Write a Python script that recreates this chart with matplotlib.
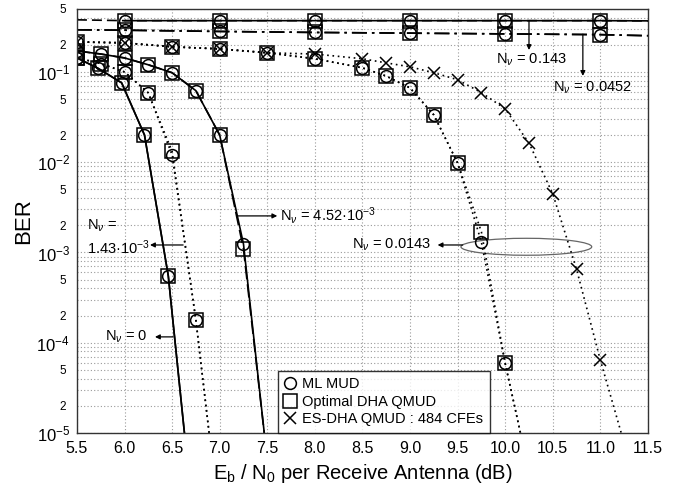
import numpy as np
import matplotlib.pyplot as plt
from matplotlib.lines import Line2D
from matplotlib.patches import Ellipse
from matplotlib.ticker import FixedLocator, FixedFormatter

plt.rcParams['font.family'] = ['Liberation Sans', 'DejaVu Sans']
plt.rcParams['mathtext.fontset'] = 'custom'
plt.rcParams['mathtext.rm'] = 'Liberation Sans'
plt.rcParams['mathtext.it'] = 'Liberation Sans:italic'

# --- data (BER vs Eb/N0) ---
# N_nu = 0
x_n0 = [5.5, 5.72, 5.97, 6.21, 6.46, 6.71]
ml_n0 = [0.143, 0.110, 0.0757, 0.0200, 5.5e-4, 1.5e-6]
dha_n0 = [0.143, 0.110, 0.0757, 0.0200, 5.5e-4, 1.5e-6]

# N_nu = 1.43e-3
x_n1 = [5.5, 5.75, 6.0, 6.25, 6.5, 6.75, 7.0]
ml_n1 = [0.143, 0.124, 0.100, 0.0586, 0.0120, 1.78e-4, 1.0e-6]
dha_n1 = [0.143, 0.124, 0.100, 0.0586, 0.0132, 1.78e-4, 1.0e-6]

# N_nu = 4.52e-3
x_n2 = [5.5, 5.75, 6.0, 6.25, 6.5, 6.75, 7.0, 7.25, 7.5]
ml_n2 = [0.171, 0.158, 0.143, 0.120, 0.098, 0.062, 0.0200, 1.24e-3, 5e-6]
dha_n2 = [0.171, 0.158, 0.143, 0.120, 0.098, 0.062, 0.0200, 1.09e-3, 5e-6]

# N_nu = 0.0143
x_n3 = [5.5, 6.0, 6.5, 7.0, 7.5, 8.0, 8.5, 8.75, 9.0, 9.25, 9.5, 9.75, 10.0, 10.25]
ml_n3 = [0.215, 0.21, 0.19, 0.18, 0.163, 0.140, 0.111, 0.090, 0.0665, 0.0334,
         9.8e-3, 1.3e-3, 5.9e-5, 3.7e-6]
dha_n3 = [0.215, 0.21, 0.19, 0.18, 0.163, 0.140, 0.111, 0.090, 0.0665, 0.0334,
          9.8e-3, 1.69e-3, 5.9e-5, 3.7e-6]
x_es = [5.5, 6.0, 6.5, 7.0, 7.5, 8.0, 8.5, 8.75, 9.0, 9.25, 9.5, 9.75, 10.0,
        10.25, 10.5, 10.75, 11.0, 11.25]
es_n3 = [0.215, 0.21, 0.19, 0.18, 0.163, 0.158, 0.140, 0.126, 0.114, 0.098,
         0.082, 0.059, 0.039, 0.0163, 4.45e-3, 6.5e-4, 6.4e-5, 7.7e-6]

# N_nu = 0.0452 and 0.143 (flat floors)
x_top = [5.5, 6.0, 7.0, 8.0, 9.0, 10.0, 11.0, 11.5]
ml_n4 = [0.293, 0.290, 0.281, 0.274, 0.269, 0.264, 0.259, 0.252]
dha_n4 = [0.293, 0.290, 0.281, 0.274, 0.269, 0.264, 0.259, 0.252]
ml_n5 = [0.378, 0.370, 0.370, 0.370, 0.370, 0.370, 0.370, 0.368]
dha_n5 = [0.378, 0.370, 0.370, 0.370, 0.370, 0.370, 0.370, 0.368]

x_ticks = [5.5, 6.0, 6.5, 7.0, 7.5, 8.0, 8.5, 9.0, 9.5, 10.0, 10.5, 11.0, 11.5]
y_major = [1e-5, 1e-4, 1e-3, 1e-2, 1e-1]
y_major_labels = ['$10^{-5}$', '$10^{-4}$', '$10^{-3}$', '$10^{-2}$', '$10^{-1}$']

fig = plt.figure(figsize=(6.93, 4.92), dpi=100)
ax = fig.add_axes([0.111, 0.120, 0.824, 0.862])
ax.set_yscale('log')

dot = (0, (1.0, 2.2))
lw = 1.2
ms_c, ms_s, ms_x = 8.5, 10, 9
mk = dict(mfc='none', mec='black', mew=1.1)

# N_nu = 0 : solid
ax.plot(x_n0, ml_n0, '-', color='black', lw=lw, marker='o', ms=ms_c, **mk)
ax.plot(x_n0, dha_n0, '-', color='black', lw=lw, marker='s', ms=ms_s, **mk)
# N_nu = 1.43e-3 : dotted
ax.plot(x_n1, ml_n1, linestyle=dot, color='black', lw=lw, marker='o', ms=ms_c, **mk)
ax.plot(x_n1, dha_n1, linestyle=dot, color='black', lw=lw, marker='s', ms=ms_s, **mk)
# N_nu = 4.52e-3 : solid + long dash
ax.plot(x_n2, ml_n2, '-', color='black', lw=lw, marker='o', ms=ms_c, **mk)
ax.plot(x_n2, dha_n2, linestyle=(0, (8, 3)), color='black', lw=lw, marker='s', ms=ms_s, **mk)
# N_nu = 0.0143 : dotted
ax.plot(x_n3, ml_n3, linestyle=dot, color='black', lw=lw, marker='o', ms=ms_c, **mk)
ax.plot(x_n3, dha_n3, linestyle=dot, color='black', lw=lw, marker='s', ms=ms_s, **mk)
ax.plot(x_es, es_n3, linestyle=dot, color='black', lw=lw, marker='x', ms=ms_x, mec='black', mew=1.1)
# N_nu = 0.0452 : dash-dot
ax.plot(x_top, ml_n4, linestyle=(0, (9, 3, 1.5, 3)), color='black', lw=lw, marker='o', ms=ms_c,
        markevery=slice(1, -1), **mk)
ax.plot(x_top, dha_n4, linestyle=(0, (9, 3, 1.5, 3)), color='black', lw=lw, marker='s', ms=ms_s,
        markevery=slice(1, -1), **mk)
# N_nu = 0.143 : dashed start, solid after
ax.plot(x_top, ml_n5, linestyle=(0, (6, 3)), color='black', lw=lw, marker='o', ms=ms_c,
        markevery=slice(1, -1), **mk)
ax.plot(x_top[1:], dha_n5[1:], '-', color='black', lw=lw, marker='s', ms=ms_s,
        markevery=slice(0, -1), **mk)

# axes, ticks, grid
ax.set_xlim(5.5, 11.5)
ax.set_ylim(1e-5, 0.5)
ax.set_xticks(x_ticks)
ax.set_xticklabels(['%.1f' % v for v in x_ticks], fontsize=11.5)

minor_vals, minor_labels = [], []
for e in range(-5, 0):
    for m in range(2, 10):
        v = m * 10.0 ** e
        if v > 0.5 + 1e-9:
            continue
        minor_vals.append(v)
        minor_labels.append(str(m) if m in (2, 5) else '')
ax.yaxis.set_major_locator(FixedLocator(y_major))
ax.yaxis.set_major_formatter(FixedFormatter(y_major_labels))
ax.yaxis.set_minor_locator(FixedLocator(minor_vals))
ax.yaxis.set_minor_formatter(FixedFormatter(minor_labels))
ax.tick_params(axis='y', which='major', labelsize=12, length=0, pad=5)
ax.tick_params(axis='y', which='minor', labelsize=8.5, length=0, pad=8)
ax.tick_params(axis='x', length=0, pad=6)

ax.xaxis.grid(True, which='major', linestyle=(0, (1, 2)), color='#9a9a9a', lw=0.8)
ax.yaxis.grid(True, which='both', linestyle=(0, (1, 2)), color='#9a9a9a', lw=0.8)
ax.set_axisbelow(True)
for s in ax.spines.values():
    s.set_color('#333333')
    s.set_linewidth(1.0)

ax.set_xlabel('E$_\\mathrm{b}$ / N$_0$ per Receive Antenna (dB)', fontsize=14.5, labelpad=4)
ax.set_ylabel('BER', fontsize=16, labelpad=2)

# annotations
arr = dict(arrowstyle='-|>', color='black', lw=0.9, mutation_scale=7, shrinkA=0, shrinkB=0)
fs = 10.5
nu = 'N$_{\\nu}$'
ax.annotate('', xy=(10.25, 0.175), xytext=(10.25, 0.368), arrowprops=arr)
ax.text(9.9, 0.136, nu + ' = 0.143', fontsize=fs, ha='left', va='center')
ax.annotate('', xy=(10.816, 0.0904), xytext=(10.816, 0.262), arrowprops=arr)
ax.text(10.5, 0.0665, nu + ' = 0.0452', fontsize=fs, ha='left', va='center')
ax.annotate('', xy=(7.605, 2.54e-3), xytext=(7.195, 2.54e-3), arrowprops=arr)
ax.text(7.637, 2.54e-3, nu + ' = 4.52·10$^{-3}$', fontsize=fs, ha='left', va='center')
ax.annotate('', xy=(6.268, 1.21e-3), xytext=(6.616, 1.21e-3), arrowprops=arr)
ax.text(5.605, 1.47e-3, nu + ' =\n1.43·10$^{-3}$', fontsize=fs, ha='left', va='center',
        linespacing=1.3)
ax.annotate('', xy=(6.32, 1.16e-4), xytext=(6.51, 1.16e-4), arrowprops=arr)
ax.text(5.795, 1.16e-4, nu + ' = 0', fontsize=fs, ha='left', va='center')
ax.annotate('', xy=(9.29, 1.21e-3), xytext=(9.553, 1.21e-3), arrowprops=arr)
ax.text(9.216, 1.21e-3, nu + ' = 0.0143', fontsize=fs, ha='right', va='center')
ax.add_patch(Ellipse((0.787, 0.439), 0.229, 0.040, transform=ax.transAxes,
                     fill=False, edgecolor='#666666', lw=0.9))

handles = [
    Line2D([], [], linestyle='none', marker='o', ms=ms_c, **mk),
    Line2D([], [], linestyle='none', marker='s', ms=ms_s, **mk),
    Line2D([], [], linestyle='none', marker='x', ms=ms_x, mec='black', mew=1.1),
]
leg = ax.legend(handles, ['ML MUD', 'Optimal DHA QMUD', 'ES-DHA QMUD : 484 CFEs'],
                loc='lower left', bbox_to_anchor=(0.352, 0.0), borderaxespad=0,
                fontsize=10.5, frameon=True, fancybox=False, handlelength=0.8,
                handletextpad=0.4, labelspacing=0.25, borderpad=0.45)
leg.get_frame().set_edgecolor('black')
leg.get_frame().set_linewidth(1.0)

fig.savefig('out.png', dpi=100)
